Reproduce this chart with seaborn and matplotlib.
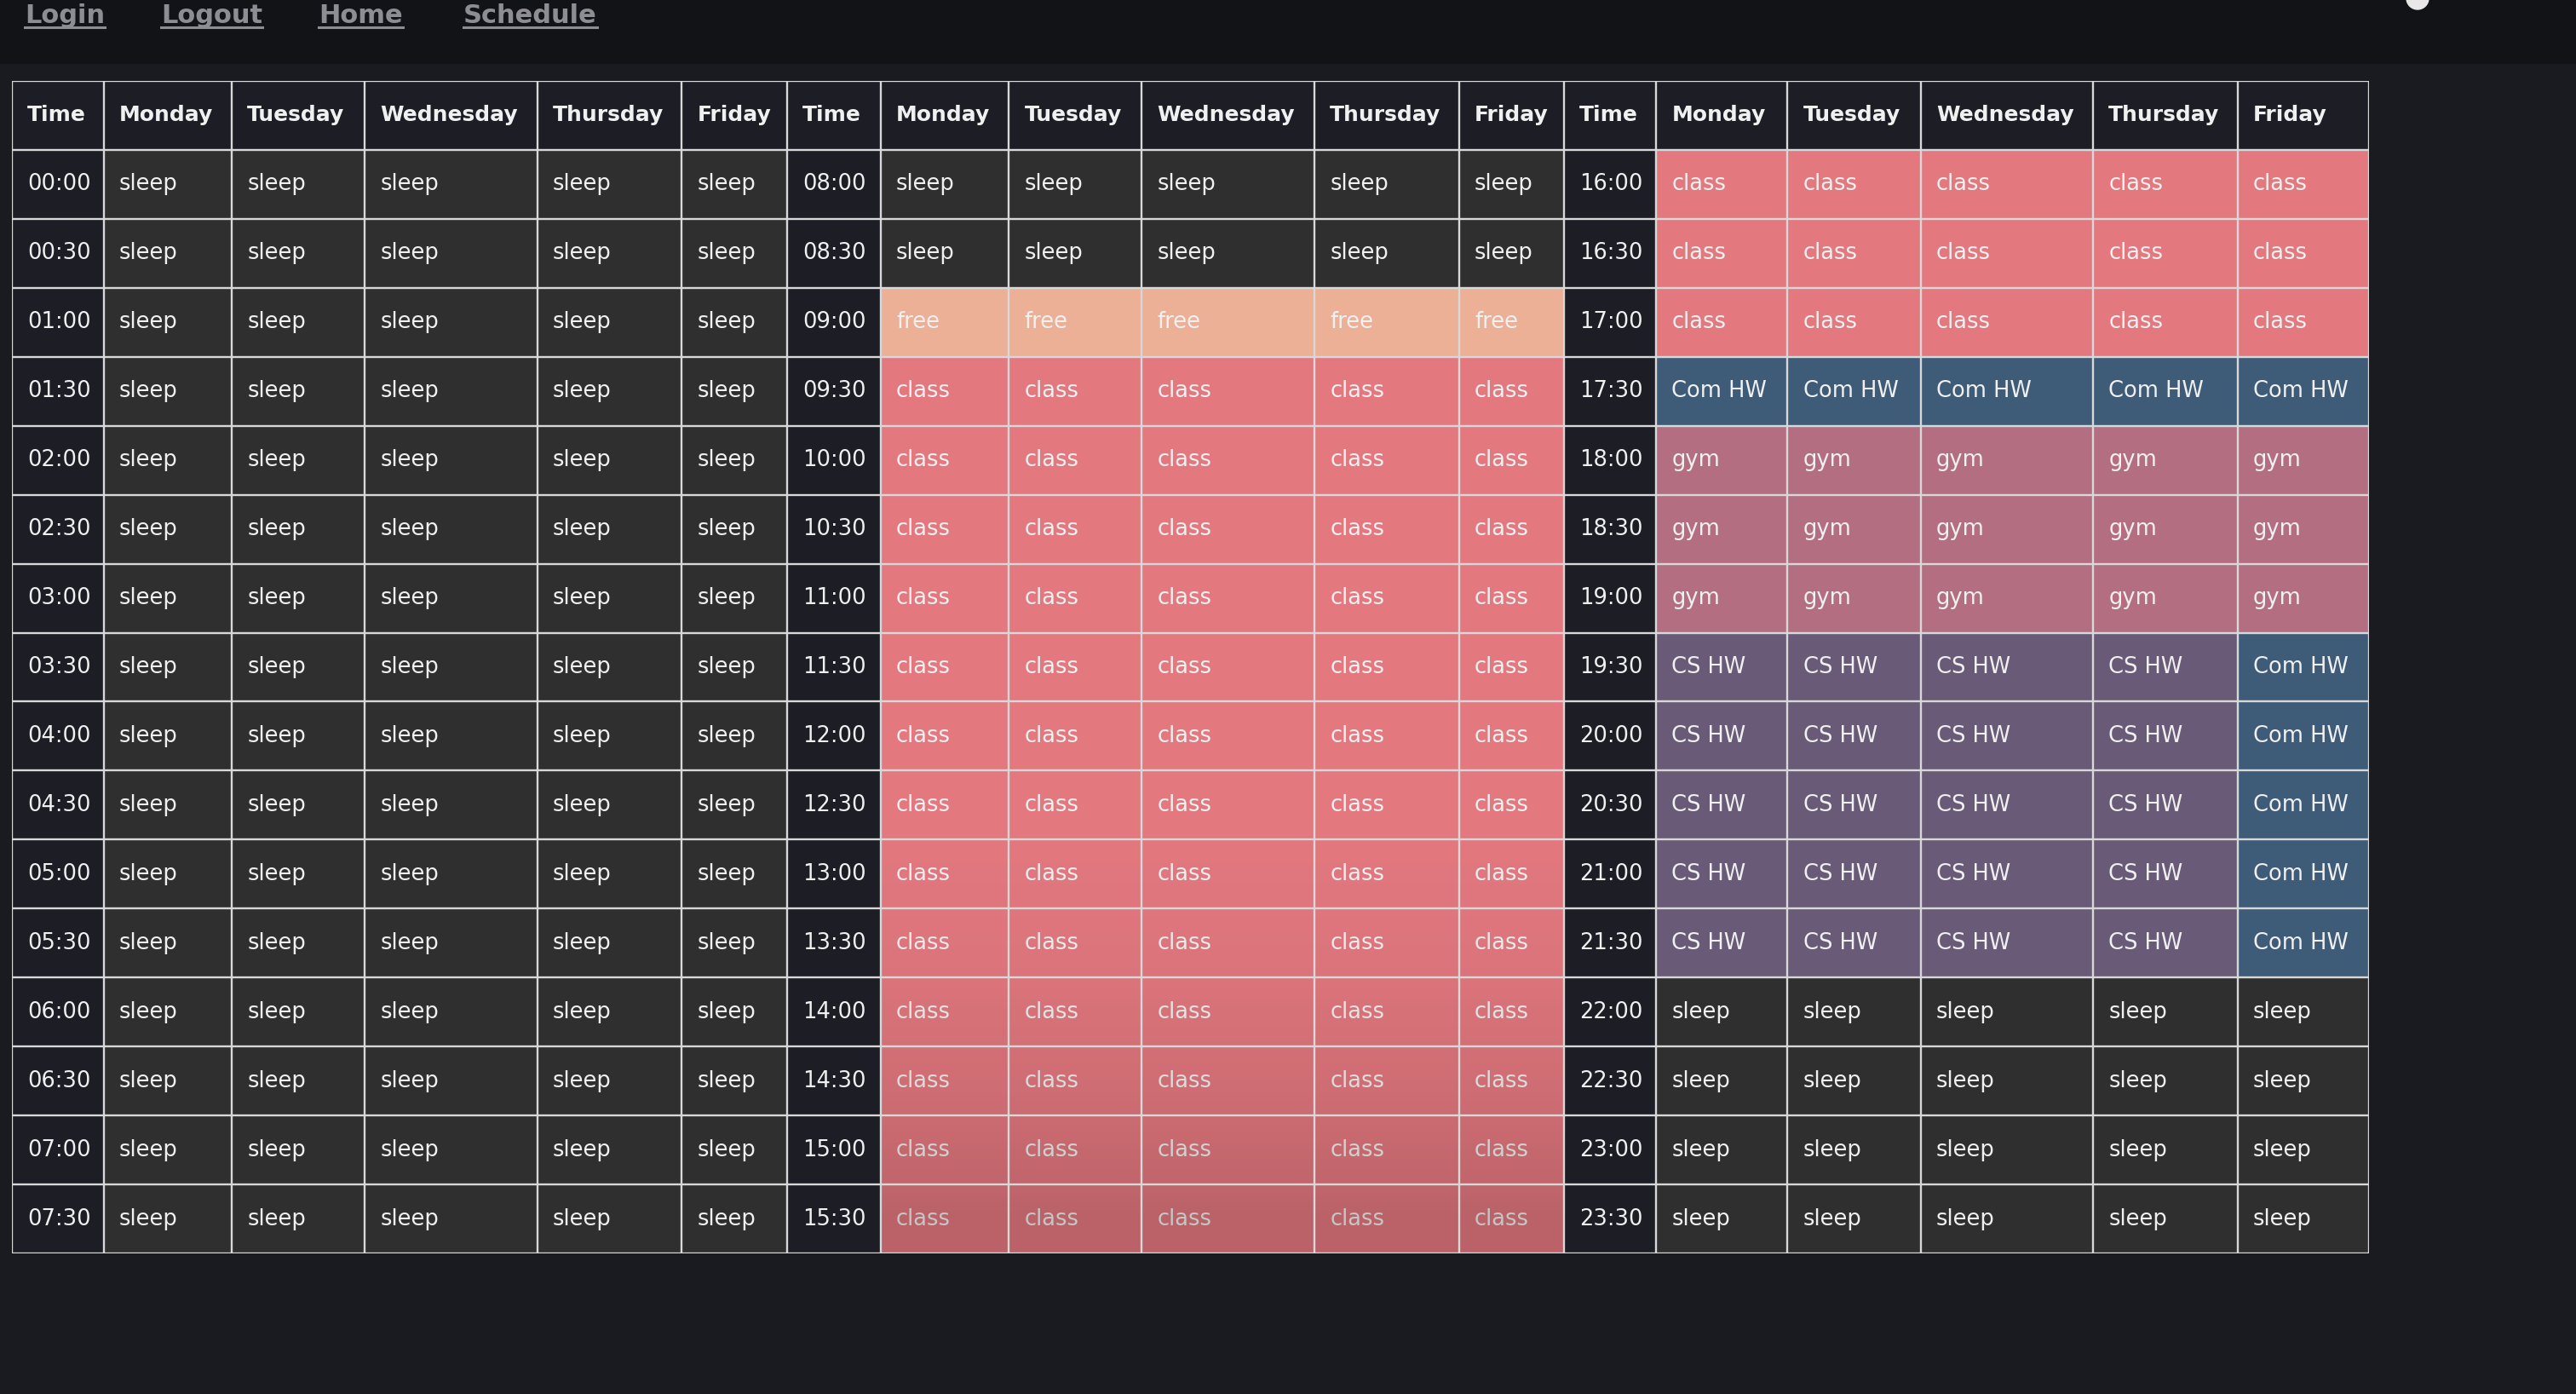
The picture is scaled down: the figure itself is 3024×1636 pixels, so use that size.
import numpy as np
import pandas as pd
import seaborn as sns
import matplotlib.pyplot as plt
from matplotlib.colors import ListedColormap
from matplotlib.lines import Line2D
from matplotlib.patches import Rectangle, Ellipse

# weekly schedule table, three blocks of 8 hours side by side
days = ["Monday", "Tuesday", "Wednesday", "Thursday", "Friday"]
nav_links = ["Login", "Logout", "Home", "Schedule"]

times_night = ["00:00", "00:30", "01:00", "01:30", "02:00", "02:30", "03:00", "03:30",
               "04:00", "04:30", "05:00", "05:30", "06:00", "06:30", "07:00", "07:30"]
times_day = ["08:00", "08:30", "09:00", "09:30", "10:00", "10:30", "11:00", "11:30",
             "12:00", "12:30", "13:00", "13:30", "14:00", "14:30", "15:00", "15:30"]
times_evening = ["16:00", "16:30", "17:00", "17:30", "18:00", "18:30", "19:00", "19:30",
                 "20:00", "20:30", "21:00", "21:30", "22:00", "22:30", "23:00", "23:30"]

night = [
    ["sleep", "sleep", "sleep", "sleep", "sleep"],
    ["sleep", "sleep", "sleep", "sleep", "sleep"],
    ["sleep", "sleep", "sleep", "sleep", "sleep"],
    ["sleep", "sleep", "sleep", "sleep", "sleep"],
    ["sleep", "sleep", "sleep", "sleep", "sleep"],
    ["sleep", "sleep", "sleep", "sleep", "sleep"],
    ["sleep", "sleep", "sleep", "sleep", "sleep"],
    ["sleep", "sleep", "sleep", "sleep", "sleep"],
    ["sleep", "sleep", "sleep", "sleep", "sleep"],
    ["sleep", "sleep", "sleep", "sleep", "sleep"],
    ["sleep", "sleep", "sleep", "sleep", "sleep"],
    ["sleep", "sleep", "sleep", "sleep", "sleep"],
    ["sleep", "sleep", "sleep", "sleep", "sleep"],
    ["sleep", "sleep", "sleep", "sleep", "sleep"],
    ["sleep", "sleep", "sleep", "sleep", "sleep"],
    ["sleep", "sleep", "sleep", "sleep", "sleep"],
]
day = [
    ["sleep", "sleep", "sleep", "sleep", "sleep"],
    ["sleep", "sleep", "sleep", "sleep", "sleep"],
    ["free", "free", "free", "free", "free"],
    ["class", "class", "class", "class", "class"],
    ["class", "class", "class", "class", "class"],
    ["class", "class", "class", "class", "class"],
    ["class", "class", "class", "class", "class"],
    ["class", "class", "class", "class", "class"],
    ["class", "class", "class", "class", "class"],
    ["class", "class", "class", "class", "class"],
    ["class", "class", "class", "class", "class"],
    ["class", "class", "class", "class", "class"],
    ["class", "class", "class", "class", "class"],
    ["class", "class", "class", "class", "class"],
    ["class", "class", "class", "class", "class"],
    ["class", "class", "class", "class", "class"],
]
evening = [
    ["class", "class", "class", "class", "class"],
    ["class", "class", "class", "class", "class"],
    ["class", "class", "class", "class", "class"],
    ["Com HW", "Com HW", "Com HW", "Com HW", "Com HW"],
    ["gym", "gym", "gym", "gym", "gym"],
    ["gym", "gym", "gym", "gym", "gym"],
    ["gym", "gym", "gym", "gym", "gym"],
    ["CS HW", "CS HW", "CS HW", "CS HW", "Com HW"],
    ["CS HW", "CS HW", "CS HW", "CS HW", "Com HW"],
    ["CS HW", "CS HW", "CS HW", "CS HW", "Com HW"],
    ["CS HW", "CS HW", "CS HW", "CS HW", "Com HW"],
    ["CS HW", "CS HW", "CS HW", "CS HW", "Com HW"],
    ["sleep", "sleep", "sleep", "sleep", "sleep"],
    ["sleep", "sleep", "sleep", "sleep", "sleep"],
    ["sleep", "sleep", "sleep", "sleep", "sleep"],
    ["sleep", "sleep", "sleep", "sleep", "sleep"],
]

categories = ["time", "sleep", "free", "class", "Com HW", "gym", "CS HW"]
cat_colors = ["#1c1d25", "#2f2f30", "#ebb096", "#e3787f", "#3e5b78", "#b46e81", "#695a78"]

# column widths of the html table (in px of the screenshot)
col_widths = [56, 78, 81, 105, 88, 64, 57, 78, 81, 105, 88, 64, 56, 80, 81, 105, 88, 80]

# build the label grid and the colour codes
header = (["Time"] + days) * 3
labels = [header]
for i in range(16):
    labels.append([times_night[i]] + night[i] + [times_day[i]] + day[i]
                  + [times_evening[i]] + evening[i])
labels = pd.DataFrame(labels)

codes = np.zeros(labels.shape, dtype=int)
for r in range(1, labels.shape[0]):
    for c in range(labels.shape[1]):
        if c % 6 != 0:
            codes[r, c] = categories.index(labels.iloc[r, c])

# repeat columns so each table column gets its real width
wide = np.repeat(codes, col_widths, axis=1)
edges = np.concatenate([[0], np.cumsum(col_widths)])
total = edges[-1]
n_rows = labels.shape[0]

plt.rcParams['font.family'] = ['DejaVu Sans']

W, H = 3024, 1636
fig = plt.figure(figsize=(W / 100, H / 100), dpi=100, facecolor="#1a1b20")

# top nav bar
fig.patches.append(Rectangle((0, 1 - 74 / H), 1, 74 / H, transform=fig.transFigure,
                             color="#121317", zorder=0))
fig.patches.append(Ellipse((2838 / W, 1 + 2 / H), 26 / W, 26 / H, transform=fig.transFigure,
                           color="#e8e8e8", zorder=1))

ax = fig.add_axes([13.5 / W, 1 - 1471 / H, (2781 - 13.5) / W, (1471 - 95) / H])
sns.heatmap(wide, cmap=ListedColormap(cat_colors), vmin=-0.5, vmax=len(categories) - 0.5,
            cbar=False, linewidths=0, xticklabels=False, yticklabels=False, ax=ax)

# cell texts
for r in range(n_rows):
    for c in range(labels.shape[1]):
        ax.text(edges[c] + 9.5, r + 0.5, labels.iloc[r, c], ha="left", va="center",
                color="#f0f0f0", fontsize=18 if r == 0 else 18.5,
                fontweight="bold" if r == 0 else "normal", zorder=2)

# the middle class block fades darker toward the bottom
rows_fine = np.linspace(1, n_rows, 200)
alpha = np.clip((rows_fine - 10) / 6.5, 0, 1) ** 2 * 0.18
shade = np.zeros((200, 1, 4))
shade[:, 0, 3] = alpha
ax.imshow(shade, extent=(edges[7], edges[12], n_rows, 1), aspect="auto",
          interpolation="bilinear", zorder=3)

# table borders
ax.vlines(edges, 0, n_rows, colors="#d8d8d8", linewidth=1.7, zorder=4)
ax.hlines(np.arange(n_rows + 1), 0, total, colors="#d8d8d8", linewidth=1.7, zorder=4)
ax.set_xlim(0, total)
ax.set_ylim(n_rows, 0)
ax.set_axis_off()

# nav links with underline
nav_x = [29, 189, 374, 544]
nav_texts = []
for name, x in zip(nav_links, nav_x):
    nav_texts.append(fig.text(x / W, 1 - 27 / H, name, ha="left", va="baseline",
                              color="#8d8d93", fontsize=22, fontweight="bold"))
fig.canvas.draw()
for t in nav_texts:
    bb = t.get_window_extent()
    fig.add_artist(Line2D([bb.x0 / W, bb.x1 / W], [1 - 32 / H, 1 - 32 / H],
                          transform=fig.transFigure, color="#8d8d93", linewidth=2.2))

fig.savefig("out.png", dpi=100, facecolor=fig.get_facecolor())
